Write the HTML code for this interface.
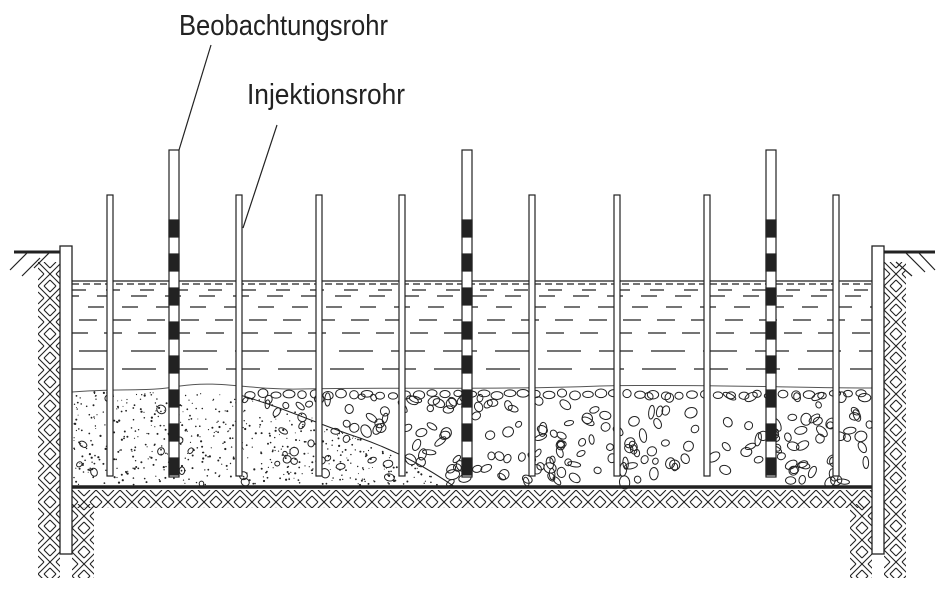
<!DOCTYPE html>
<html><head><meta charset="utf-8">
<style>
html,body{margin:0;padding:0;background:#fff;}
svg{display:block;}
text{font-family:"Liberation Sans Narrow","Liberation Sans",sans-serif;font-size:29px;fill:#222;}
</style></head>
<body>
<svg id="s" width="948" height="597" viewBox="0 0 948 597" xmlns="http://www.w3.org/2000/svg">
<defs id="defs"></defs>
<g id="hatch" stroke="#222" stroke-width="1.1" fill="none"></g>
<path d="M10,270 L28,252 M22,276 L40,258 M34,268 L50,252" stroke="#222" stroke-width="1.2"/>
<path d="M905,252 L925,272 M896,262 L912,276 M918,252 L935,270" stroke="#222" stroke-width="1.2"/>
<line x1="14" y1="252" x2="60" y2="252" stroke="#222" stroke-width="3"/>
<line x1="884" y1="252" x2="935" y2="252" stroke="#222" stroke-width="3"/>
<g id="water" stroke="#222" stroke-width="1.2"></g>
<g id="sed" stroke="#222" stroke-width="1" fill="none"></g>
<line x1="72" y1="487" x2="872" y2="487" stroke="#222" stroke-width="3.5"/>
<g id="pipes" stroke="#222" stroke-width="1.2"></g>
<rect x="60" y="246" width="12" height="308" fill="#fff" stroke="#222" stroke-width="1.3"/>
<rect x="872" y="246" width="12" height="308" fill="#fff" stroke="#222" stroke-width="1.3"/>
<text x="179" y="35" textLength="209" lengthAdjust="spacingAndGlyphs">Beobachtungsrohr</text>
<text x="247" y="104" textLength="158" lengthAdjust="spacingAndGlyphs">Injektionsrohr</text>
<line x1="211" y1="45" x2="179" y2="150" stroke="#222" stroke-width="1.2"/>
<line x1="277" y1="125" x2="243" y2="228" stroke="#222" stroke-width="1.2"/>
</svg>
<script>
var NS="http://www.w3.org/2000/svg";
function el(p,t,a){var e=document.createElementNS(NS,t);for(var k in a)e.setAttribute(k,a[k]);p.appendChild(e);return e;}
var seed=7;function r(){seed=(seed*16807)%2147483647;return seed/2147483647;}
var H=document.getElementById("hatch"),D=document.getElementById("defs"),cid=0;
function hatchRect(x0,y0,w,h){var d="",s=12;cid++;
 var cp=el(D,"clipPath",{id:"c"+cid});el(cp,"rect",{x:x0,y:y0,width:w,height:h});
 for(var j=0;y0+j*s<y0+h;j++)for(var i=0;x0+i*s<x0+w;i++){var cx=x0+i*s,cy=y0+j*s,ps;
  if((i+j)%2==0){ps=[[cx,cy,cx+s,cy+s],[cx+s/2,cy,cx+s,cy+s/2],[cx,cy+s/2,cx+s/2,cy+s]];}
  else{ps=[[cx+s,cy,cx,cy+s],[cx+s/2,cy,cx,cy+s/2],[cx+s,cy+s/2,cx+s/2,cy+s]];}
  ps.forEach(function(p){d+="M"+p[0]+","+p[1]+"L"+p[2]+","+p[3];});
 }
 el(H,"path",{d:d,"clip-path":"url(#c"+cid+")"});}
hatchRect(38,262,22,316);
hatchRect(72,490,800,18);
hatchRect(72,504,22,74);
hatchRect(850,504,22,74);
hatchRect(884,262,22,316);
var W=document.getElementById("water");
el(W,"line",{x1:72,y1:281,x2:872,y2:281});
el(W,"line",{x1:72,y1:284,x2:872,y2:284,"stroke-dasharray":"7 4"});
var rows=[[290,14,20],[296,16,18],[307,16,18],[320,18,16],[333,18,16],[351,34,18],[369,34,18]];
rows.forEach(function(rw,i){el(W,"line",{x1:72,y1:rw[0],x2:872,y2:rw[0],"stroke-dasharray":rw[1]+" "+rw[2],"stroke-dashoffset":i*9});});
var S=document.getElementById("sed");
el(S,"path",{d:"M72,392 C120,388 150,392 180,386 C220,380 250,390 300,389 C400,387 500,390 600,386 C700,384 800,388 872,388",stroke:"#555"});
el(S,"path",{d:"M240,395 C290,410 320,425 360,438 C400,452 430,470 455,487"});
function inSand(x,y){var t=(x-240)/215; if(x<240)return true; if(x>455)return false; var by=395+92*Math.pow(t,1.3); return y>by;}
for(var i=0;i<800;i++){var x=74+r()*390,y=392+r()*93;if(inSand(x,y))el(S,"circle",{cx:x.toFixed(1),cy:y.toFixed(1),r:(0.5+r()*0.6).toFixed(1),fill:"#222",stroke:"none"});}
for(var i=0;i<45;i++){var x=76+r()*370,y=394+r()*90;if(inSand(x,y))el(S,"ellipse",{cx:x,cy:y,rx:2+r()*3,ry:2+r()*2.5,transform:"rotate("+(r()*180)+" "+x+" "+y+")"});}
for(var i=0;i<260;i++){var x=240+r()*630,y=396+r()*88;if(!inSand(x,y)){var a=3+r()*4,b=2.4+r()*2.8;el(S,"ellipse",{cx:x.toFixed(1),cy:y.toFixed(1),rx:a.toFixed(1),ry:b.toFixed(1),transform:"rotate("+(r()*180).toFixed(0)+" "+x.toFixed(1)+" "+y.toFixed(1)+")"});}}
for(var x=250;x<870;x+=13){var y=393+r()*3;el(S,"ellipse",{cx:x,cy:y,rx:4+r()*2,ry:3+r()*1.5});}
var P=document.getElementById("pipes");
[107,236,316,399,529,614,704,833].forEach(function(x){el(P,"rect",{x:x,y:195,width:6,height:281,fill:"#fff"});});
[169,462,766].forEach(function(x){el(P,"rect",{x:x,y:150,width:10,height:327,fill:"#fff"});
for(var y=220;y<476;y+=34){el(P,"rect",{x:x,y:y,width:10,height:Math.min(17,477-y),fill:"#222"});}});
</script>
</body></html>
